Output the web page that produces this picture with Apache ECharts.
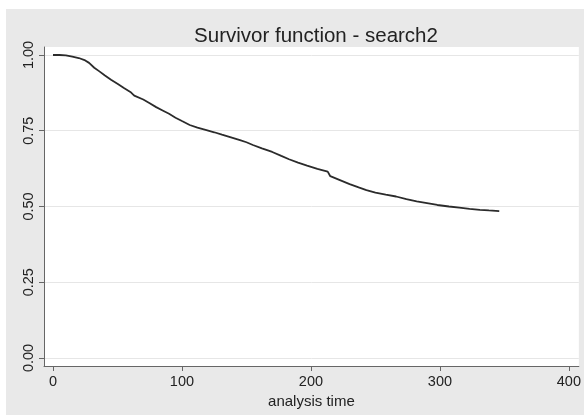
<!DOCTYPE html>
<html>
<head>
<meta charset="utf-8">
<script src="https://cdn.jsdelivr.net/npm/echarts@6/dist/echarts.min.js"></script>
<style>
html,body{margin:0;padding:0;background:#fff;}
#chart{width:584px;height:415px;}
</style>
</head>
<body>
<div id="chart"></div>
<script>
const titleText = 'Survivor function - search2';
const xAxisName = 'analysis time';
const xTicks = [0, 100, 200, 300, 400];
const yTicks = [0, 0.25, 0.5, 0.75, 1];
const times = [0,5,10,15,20,25,28,32,36,40,45,50,55,60,63,70,75,80,85,90,95,100,106,112,119,125,131,138,145,150,155,162,170,177,183,190,197,205,213,215,222,230,237,243,250,258,266,274,282,290,298,307,315,323,331,338,346];
const survival = [1.0,1.0,0.999,0.995,0.99,0.982,0.974,0.958,0.946,0.933,0.918,0.905,0.891,0.878,0.866,0.853,0.841,0.828,0.817,0.806,0.793,0.782,0.769,0.76,0.752,0.745,0.737,0.728,0.719,0.712,0.703,0.692,0.68,0.667,0.656,0.645,0.635,0.624,0.615,0.6,0.588,0.574,0.563,0.554,0.546,0.539,0.533,0.524,0.517,0.511,0.505,0.5,0.496,0.492,0.489,0.487,0.485];

const chart = echarts.init(document.getElementById('chart'), null, {renderer: 'canvas'});
const font = 'Liberation Sans, Arial, sans-serif';
chart.setOption({
  backgroundColor: '#ffffff',
  animation: false,
  graphic: [{
    type: 'rect', z: -10, silent: true,
    shape: {x: 6, y: 9, width: 578, height: 406},
    style: {fill: '#e9e9e9'}
  }],
  title: {
    text: titleText,
    left: 311,
    top: 21,
    textAlign: 'center',
    textStyle: {fontFamily: font, fontSize: 20.5, fontWeight: 'normal', color: '#222'}
  },
  grid: {
    left: 44, right: 4, top: 47, bottom: 49,
    show: true, backgroundColor: '#ffffff', borderWidth: 0
  },
  xAxis: {
    type: 'value',
    min: -6.96, max: 407.7,
    name: xAxisName,
    nameLocation: 'middle',
    nameGap: 28,
    nameTextStyle: {fontFamily: font, fontSize: 15, color: '#222'},
    axisLine: {show: true, onZero: false, lineStyle: {color: '#666666', width: 1}},
    axisTick: {show: true, length: 5, customValues: xTicks, lineStyle: {color: '#666666'}},
    axisLabel: {customValues: xTicks, margin: 8, fontFamily: font, fontSize: 14.5, color: '#222'},
    splitLine: {show: false}
  },
  yAxis: {
    type: 'value',
    min: -0.0264, max: 1.0264,
    axisLine: {show: true, onZero: false, lineStyle: {color: '#666666', width: 1}},
    axisTick: {show: true, length: 5, customValues: yTicks, lineStyle: {color: '#666666'}},
    axisLabel: {customValues: yTicks, rotate: 90, margin: 8, fontFamily: font, fontSize: 14.5, color: '#222',
      formatter: v => v.toFixed(2)},
    splitLine: {show: true, lineStyle: {color: '#e6e6e6', width: 1}}
  },
  series: [{
    type: 'line',
    showSymbol: false,
    data: times.map((t, i) => [t, survival[i]]),
    lineStyle: {color: '#2b2b2b', width: 1.8},
    z: 5
  }]
});
</script>
</body>
</html>
